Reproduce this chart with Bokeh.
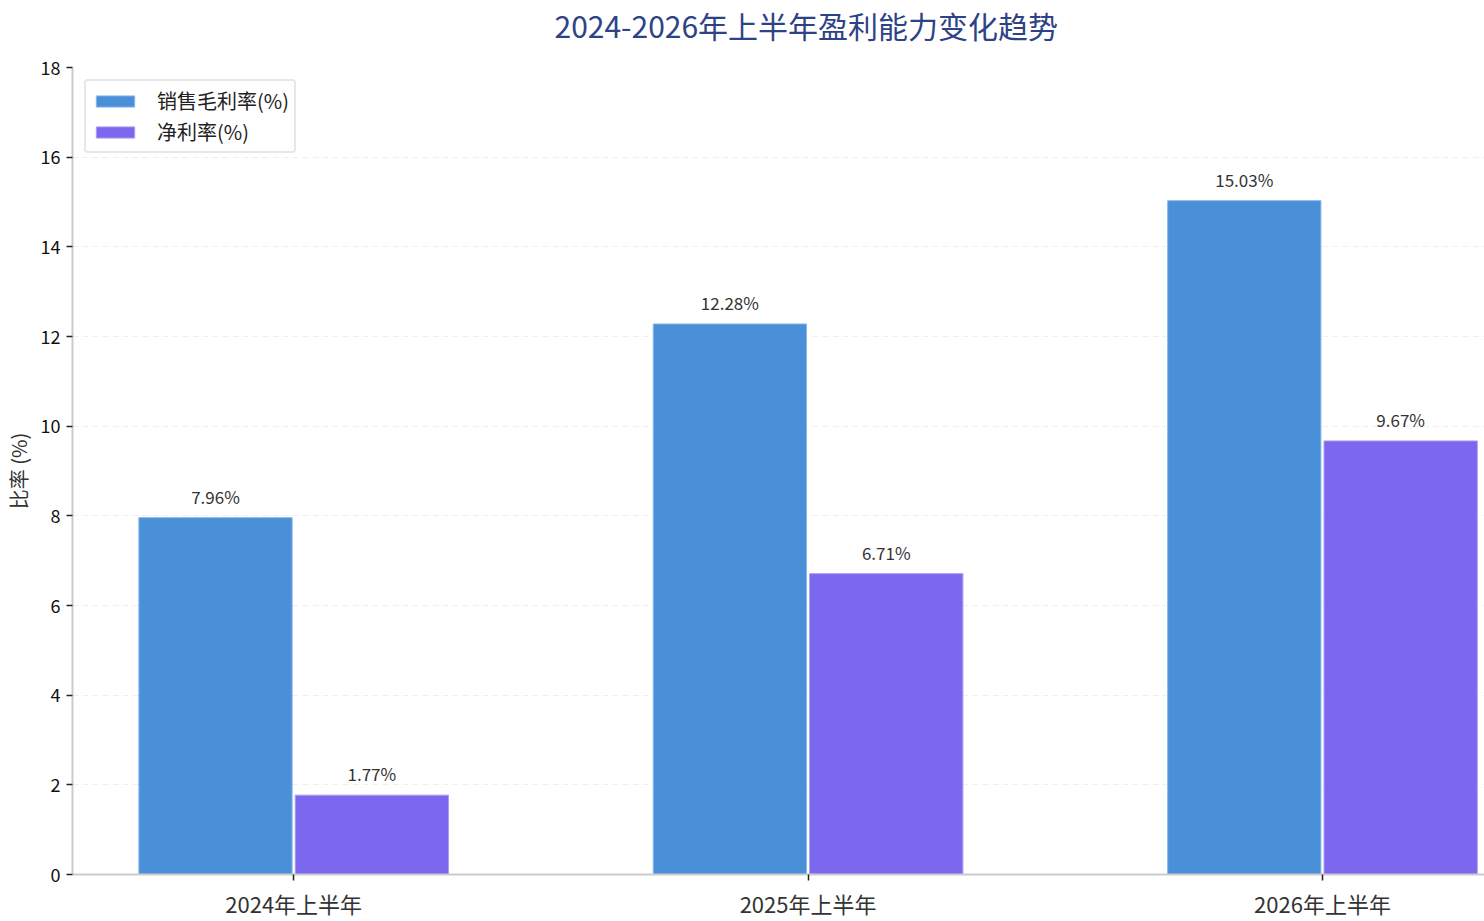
from bokeh.plotting import figure
from bokeh.models import ColumnDataSource, FixedTicker, Range1d, Legend, LegendItem, LabelSet, Title
from bokeh.transform import dodge
from bokeh.core.properties import value
from bokeh.embed import file_html
from bokeh.resources import INLINE

categories = ["2024年上半年", "2025年上半年", "2026年上半年"]
gross_margin = [7.96, 12.28, 15.03]
net_margin = [1.77, 6.71, 9.67]
y_ticks = [0, 2, 4, 6, 8, 10, 12, 14, 16, 18]
title_text = "2024-2026年上半年盈利能力变化趋势"

FONT = "Noto Sans CJK SC"
idx = list(range(len(categories)))
src = ColumnDataSource(dict(
    x=idx,
    gross=gross_margin,
    net=net_margin,
    gross_lbl=[f"{v:.2f}%" for v in gross_margin],
    net_lbl=[f"{v:.2f}%" for v in net_margin],
))

p = figure(width=1484, height=921, output_backend="svg", toolbar_location=None,
           x_range=Range1d(-0.43, 2.315), y_range=Range1d(0, 18),
           min_border_left=72, min_border_right=0, min_border_top=67, min_border_bottom=45)

p.title.text = title_text
p.title.text_font = FONT
p.title.text_font_style = "normal"
p.title.text_font_size = "30px"
p.title.text_color = "#2e4386"
p.title.align = "left"
p.title.offset = 482
p.title.vertical_align = "top"
p.title.standoff = 0

# spacer between the title and the plot frame
p.add_layout(Title(text=" ", text_font_size="1px", standoff=16), "above")

b1 = p.vbar(x=dodge("x", -0.152, range=p.x_range), top="gross", width=0.298, source=src,
            fill_color="#4a90d9", line_color="#8ab8ea", line_width=1)
b2 = p.vbar(x=dodge("x", 0.152, range=p.x_range), top="net", width=0.298, source=src,
            fill_color="#7b68ee", line_color="#a99cf3", line_width=1)

for col, lbl, off in (("gross", "gross_lbl", -0.152), ("net", "net_lbl", 0.152)):
    p.add_layout(LabelSet(x=dodge("x", off, range=p.x_range), y=col, text=lbl, source=src,
                          text_align="center", text_baseline="bottom", y_offset=9,
                          text_font=value(FONT), text_font_size=value("17px"),
                          text_color="#333333"))

legend = Legend(items=[LegendItem(label="销售毛利率(%)", renderers=[b1]),
                       LegendItem(label="净利率(%)", renderers=[b2])],
                location="top_left", label_text_font=FONT, label_text_font_size="20px",
                label_text_color="#222222", glyph_width=48, glyph_height=14,
                border_line_color="#d0d0d0", border_line_width=2, border_radius=4,
                padding=5, spacing=2, margin=12, label_standoff=18, label_height=24)
p.add_layout(legend)

p.xaxis.ticker = FixedTicker(ticks=idx)
p.xaxis.major_label_overrides = {i: c for i, c in zip(idx, categories)}
p.yaxis.ticker = FixedTicker(ticks=y_ticks)
p.yaxis.axis_label = "比率 (%)"
p.yaxis.axis_label_text_font = FONT
p.yaxis.axis_label_text_font_style = "normal"
p.yaxis.axis_label_text_font_size = "20px"
p.yaxis.axis_label_text_color = "#333333"
p.yaxis.axis_label_standoff = 5

for ax in (p.xaxis, p.yaxis):
    ax.axis_line_color = "#cccccc"
    ax.axis_line_width = 2
    ax.major_tick_line_color = "#222222"
    ax.major_tick_line_width = 1.5
    ax.major_tick_out = 6
    ax.major_tick_in = 0
    ax.minor_tick_line_color = None
    ax.major_label_text_font = FONT
    ax.major_label_standoff = 6
p.xaxis.major_label_text_font_size = "22px"
p.xaxis.major_label_text_color = "#333333"
p.yaxis.major_label_text_font_size = "18px"
p.yaxis.major_label_text_color = "#111111"

p.xgrid.grid_line_color = None
p.ygrid.grid_line_color = "#e8e8e8"
p.ygrid.grid_line_dash = "6 4"
p.ygrid.grid_line_alpha = 0.7
p.outline_line_color = None

open("out.html", "w").write(file_html(p, INLINE))
